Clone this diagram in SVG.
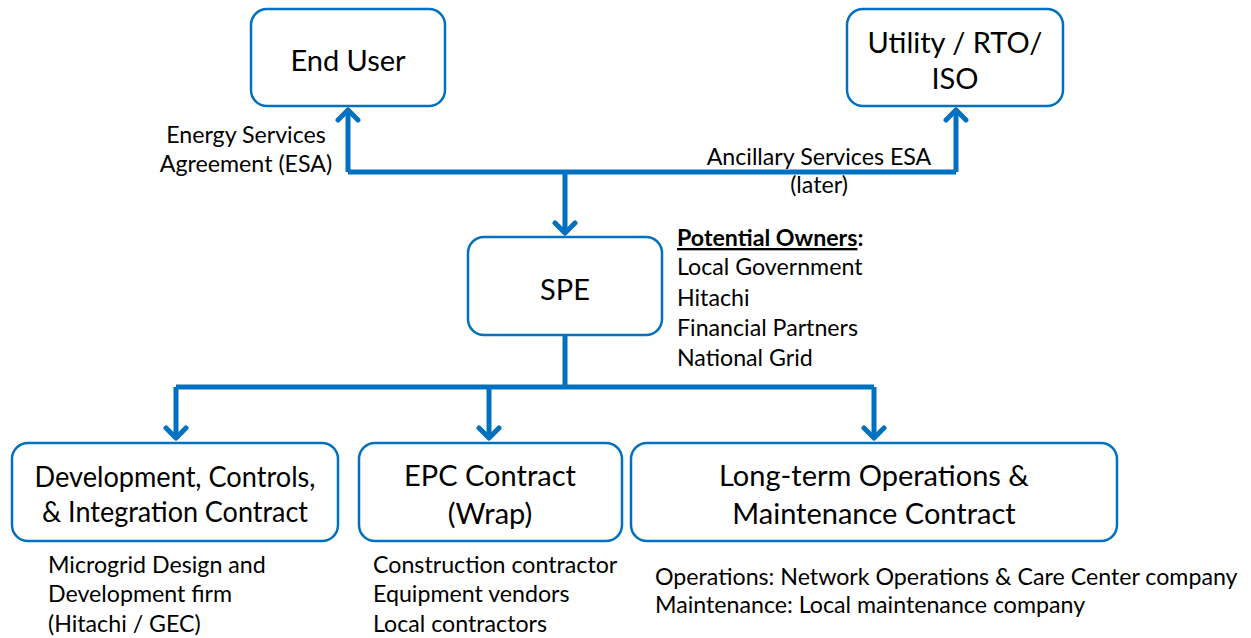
<svg xmlns="http://www.w3.org/2000/svg" width="1251" height="638" viewBox="0 0 1251 638">
<style>
.box{fill:#fff;stroke:#0070C0;stroke-width:2.5}
.lbl{font-family:Lato,"Open Sans",sans-serif;font-size:29px;fill:#000;text-anchor:middle}
.sm{font-family:Lato,"Open Sans",sans-serif;font-size:23.2px;fill:#000}
.mid{text-anchor:middle}
.con{fill:none;stroke:#0070C0;stroke-width:5;stroke-linejoin:round}
</style>
<defs>
<marker id="arr" markerUnits="userSpaceOnUse" viewBox="-14 -13 17 26" refX="0" refY="0" markerWidth="17" markerHeight="26" orient="auto">
<path d="M-10,-10 L0,0 L-10,10" fill="none" stroke="#0070C0" stroke-width="5" stroke-linecap="round" stroke-linejoin="round"/>
</marker>
</defs>
<g id="connectors">
<path class="con" d="M565,172 V233" marker-end="url(#arr)"/>
<path class="con" d="M348,172 H956" />
<path class="con" d="M348,172 V110" marker-end="url(#arr)"/>
<path class="con" d="M956,172 V110" marker-end="url(#arr)"/>
<path class="con" d="M565,336 V387 M176,387 H874"/>
<path class="con" d="M176,387 V438" marker-end="url(#arr)"/>
<path class="con" d="M489,387 V438" marker-end="url(#arr)"/>
<path class="con" d="M874,387 V438" marker-end="url(#arr)"/>
</g>
<g id="end-user">
<rect class="box" x="251" y="9" width="194" height="97" rx="16"/>
<text class="lbl" x="348" y="71">End User</text>
</g>
<g id="utility">
<rect class="box" x="847" y="9" width="216" height="97" rx="16"/>
<text class="lbl" x="955" y="53">Utility / RTO/</text>
<text class="lbl" x="955" y="89">ISO</text>
</g>
<g id="spe">
<rect class="box" x="468" y="237" width="194" height="98" rx="16"/>
<text class="lbl" x="565" y="300">SPE</text>
</g>
<g id="dev">
<rect class="box" x="12" y="443" width="326" height="98" rx="16"/>
<text class="lbl" x="175" y="487" textLength="281" lengthAdjust="spacingAndGlyphs">Development, Controls,</text>
<text class="lbl" x="175" y="522" textLength="266" lengthAdjust="spacingAndGlyphs">&amp; Integration Contract</text>
</g>
<g id="epc">
<rect class="box" x="359" y="443" width="263" height="98" rx="16"/>
<text class="lbl" x="490" y="486">EPC Contract</text>
<text class="lbl" x="490" y="524">(Wrap)</text>
</g>
<g id="om">
<rect class="box" x="631" y="443" width="486" height="98" rx="16"/>
<text class="lbl" x="874" y="486">Long-term Operations &amp;</text>
<text class="lbl" x="874" y="524">Maintenance Contract</text>
</g>
<g id="labels">
<text class="sm mid" x="246" y="143">Energy Services</text>
<text class="sm mid" x="246" y="172">Agreement (ESA)</text>
<text class="sm mid" x="819" y="165">Ancillary Services ESA</text>
<text class="sm mid" x="819" y="193">(later)</text>
<text class="sm" x="677" y="246" font-weight="bold"><tspan text-decoration="underline">Potential Owners</tspan>:</text>
<text class="sm" x="677" y="275">Local Government</text>
<text class="sm" x="677" y="306">Hitachi</text>
<text class="sm" x="677" y="336">Financial Partners</text>
<text class="sm" x="677" y="366">National Grid</text>
<text class="sm" x="48" y="573">Microgrid Design and</text>
<text class="sm" x="48" y="602">Development firm</text>
<text class="sm" x="48" y="632">(Hitachi / GEC)</text>
<text class="sm" x="373" y="573">Construction contractor</text>
<text class="sm" x="373" y="602">Equipment vendors</text>
<text class="sm" x="373" y="632">Local contractors</text>
<text class="sm" x="655" y="585">Operations: Network Operations &amp; Care Center company</text>
<text class="sm" x="655" y="613">Maintenance: Local maintenance company</text>
</g>
</svg>
